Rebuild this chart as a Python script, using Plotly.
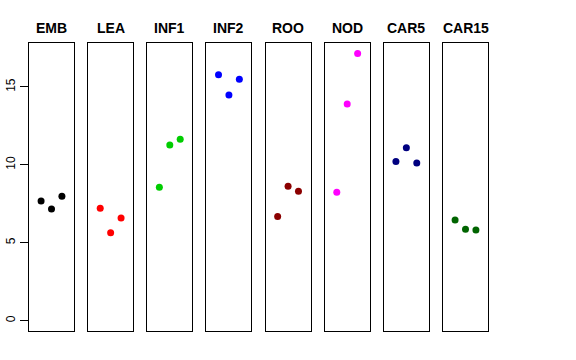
import plotly.graph_objects as go

categories = ["EMB", "LEA", "INF1", "INF2", "ROO", "NOD", "CAR5", "CAR15"]
colors = ["#000000", "#FF0000", "#00CD00", "#0000FF", "#8B0000", "#FF00FF", "#000080", "#006400"]
rep_x = [1, 2, 3]
values = {
    "EMB": [7.68, 7.17, 7.98],
    "LEA": [7.21, 5.65, 6.59],
    "INF1": [8.56, 11.28, 11.64],
    "INF2": [15.79, 14.49, 15.49],
    "ROO": [6.68, 8.63, 8.30],
    "NOD": [8.24, 13.91, 17.14],
    "CAR5": [10.21, 11.10, 10.12],
    "CAR15": [6.46, 5.87, 5.82],
}
y_ticks = [0, 5, 10, 15]

W, H = 576, 360
ml, mr, mt, mb = 29, 88, 43, 29
plot_w = W - ml - mr
panel_w = 45.0
pitch = (443 - 29) / 7.0

fig = go.Figure()
layout = {}
for i, cat in enumerate(categories):
    n = "" if i == 0 else str(i + 1)
    fig.add_trace(go.Scatter(
        x=rep_x, y=values[cat], mode="markers",
        marker=dict(color=colors[i], size=7),
        xaxis="x" + n, yaxis="y" + n, showlegend=False, hoverinfo="skip",
        cliponaxis=False))
    d0 = i * pitch / plot_w
    d1 = min((i * pitch + panel_w) / plot_w, 1)
    layout["xaxis" + n] = dict(domain=[d0, d1], range=[-0.16, 4.16],
                               showline=True, mirror=True, linecolor="black", linewidth=1,
                               showticklabels=False, ticks="", showgrid=False, zeroline=False,
                               anchor="y" + n, automargin=False)
    ydict = dict(range=[-0.66, 17.82], showline=True, mirror=True, linecolor="black",
                 linewidth=1, showgrid=False, zeroline=False, anchor="x" + n, automargin=False)
    if i == 0:
        ydict.update(tickvals=y_ticks, ticks="outside", ticklen=8, tickcolor="black",
                     tickangle=-90, tickfont=dict(family="Liberation Sans", size=12, color="black"))
    else:
        ydict.update(showticklabels=False, ticks="")
    layout["yaxis" + n] = ydict
    fig.add_annotation(text="<b>" + cat + "</b>", x=(d0 + d1) / 2, xref="paper",
                       xanchor="center", y=1, yref="paper", yshift=15, yanchor="middle",
                       showarrow=False,
                       font=dict(family="Liberation Sans", size=14, color="black"))

fig.update_layout(**layout)
fig.update_layout(width=W, height=H,
                  margin=dict(l=ml, r=mr, t=mt, b=mb, autoexpand=False),
                  plot_bgcolor="white", paper_bgcolor="white")
fig.write_html("out.html", config={"displayModeBar": False},
               post_script="document.body.style.margin='0';")
